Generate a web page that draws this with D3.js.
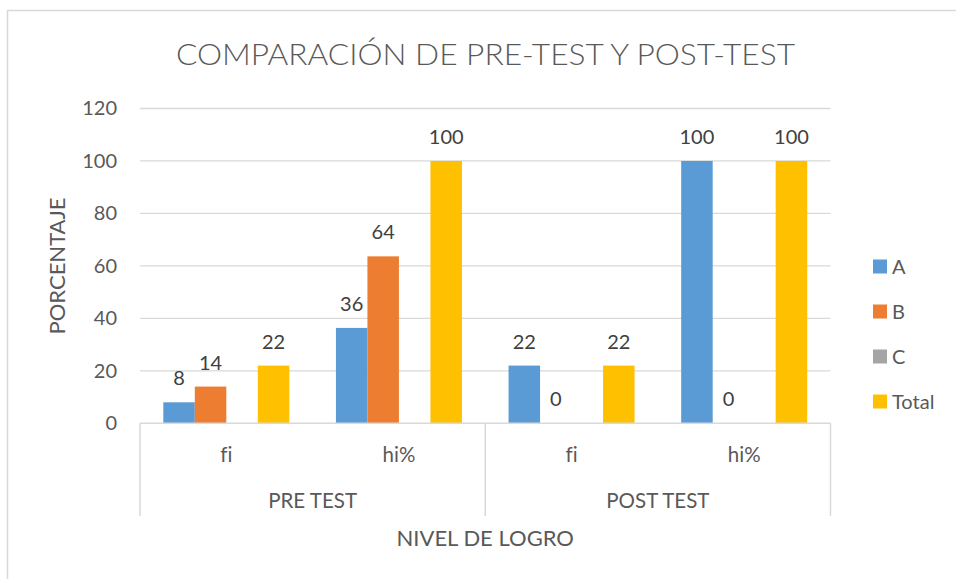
<!DOCTYPE html>
<html>
<head>
<meta charset="utf-8">
<script src="https://cdn.jsdelivr.net/npm/d3@7"></script>
<style>
  body { margin: 0; background: #fff; }
  text { font-family: Lato, "Open Sans", sans-serif; font-variant-ligatures: none; font-feature-settings: "liga" 0; }
</style>
</head>
<body>
<div id="chart"></div>
<script>
// data
let groups = ["PRE TEST", "POST TEST"];
let categories = ["fi", "hi%", "fi", "hi%"];
let categoryGroup = ["PRE TEST", "PRE TEST", "POST TEST", "POST TEST"];
let seriesNames = ["A", "B", "C", "Total"];
let valuesA = [8, 36.36, 22, 100];
let valuesB = [14, 63.64, 0, 0];
let valuesC = [null, null, null, null];
let valuesTotal = [22, 100, 22, 100];
let yTicks = [0, 20, 40, 60, 80, 100, 120];

let seriesColors = ["#5B9BD5", "#ED7D31", "#A5A5A5", "#FFC000"];
let allValues = [valuesA, valuesB, valuesC, valuesTotal];

let width = 956, height = 579;
let plot = { left: 140, right: 830.5, top: 108.5, bottom: 423.3 };

let svg = d3.select("#chart").append("svg")
  .attr("width", width)
  .attr("height", height);

// chart border (only left and top edges show in the picture)
svg.append("rect")
  .attr("x", 7.5).attr("y", 10.5)
  .attr("width", 1000).attr("height", 700)
  .attr("fill", "none")
  .attr("stroke", "#D9D9D9")
  .attr("stroke-width", 1.5);

// scales
let keys = categories.map((c, i) => i);
let x0 = d3.scaleBand().domain(keys).range([plot.left, plot.right]).padding(0);
let x1 = d3.scaleBand().domain(seriesNames).range([0, x0.bandwidth()])
  .paddingInner(0).paddingOuter(0.74);
let y = d3.scaleLinear().domain([0, 120]).range([plot.bottom, plot.top]);

// gridlines
svg.append("g").selectAll("line")
  .data(yTicks.slice(1))
  .enter().append("line")
  .attr("x1", plot.left).attr("x2", plot.right)
  .attr("y1", d => y(d)).attr("y2", d => y(d))
  .attr("stroke", "#D9D9D9")
  .attr("stroke-width", 1.3);

// y axis labels
let yAxis = svg.append("g")
  .attr("transform", "translate(" + plot.left + ",0)")
  .call(d3.axisLeft(y).tickValues(yTicks).tickSize(0).tickPadding(23));
yAxis.select(".domain").remove();
yAxis.selectAll("text")
  .attr("font-family", "Lato, sans-serif")
  .attr("font-size", "20px")
  .attr("fill", "#595959");

// bars
let rows = keys.map(i => seriesNames.map((s, j) => ({ cat: i, series: s, value: allValues[j][i], color: seriesColors[j] })));

let catG = svg.append("g").selectAll("g")
  .data(rows)
  .enter().append("g")
  .attr("transform", (d, i) => "translate(" + x0(i) + ",0)");

catG.selectAll("rect")
  .data(d => d.filter(e => e.value !== null))
  .enter().append("rect")
  .attr("x", d => x1(d.series))
  .attr("y", d => y(d.value))
  .attr("width", x1.bandwidth())
  .attr("height", d => y(0) - y(d.value))
  .attr("fill", d => d.color);

// data labels
catG.selectAll("text")
  .data(d => d.filter(e => e.value !== null))
  .enter().append("text")
  .attr("x", d => x1(d.series) + x1.bandwidth() / 2)
  .attr("y", d => y(d.value) - 17)
  .attr("text-anchor", "middle")
  .attr("font-size", "20px")
  .attr("fill", "#404040")
  .text(d => d3.format(".0f")(d.value));

// category axis line and group separators
svg.append("line")
  .attr("x1", plot.left).attr("x2", plot.right)
  .attr("y1", plot.bottom).attr("y2", plot.bottom)
  .attr("stroke", "#D9D9D9").attr("stroke-width", 1.5);

let groupEdges = [plot.left, x0(2), plot.right];
svg.append("g").selectAll("line")
  .data(groupEdges)
  .enter().append("line")
  .attr("x1", d => d).attr("x2", d => d)
  .attr("y1", plot.bottom).attr("y2", 516)
  .attr("stroke", "#D9D9D9").attr("stroke-width", 1.5);

// sub category labels
svg.append("g").selectAll("text")
  .data(categories)
  .enter().append("text")
  .attr("x", (d, i) => x0(i) + x0.bandwidth() / 2)
  .attr("y", 462)
  .attr("text-anchor", "middle")
  .attr("font-size", "20.5px")
  .attr("fill", "#595959")
  .text(d => d);

// group labels
svg.append("g").selectAll("text")
  .data(groups)
  .enter().append("text")
  .attr("x", d => {
    let idx = keys.filter(i => categoryGroup[i] === d);
    return (x0(idx[0]) + x0(idx[idx.length - 1]) + x0.bandwidth()) / 2;
  })
  .attr("y", 507.5)
  .attr("text-anchor", "middle")
  .attr("font-size", "20.5px")
  .attr("fill", "#595959")
  .text(d => d);

// axis titles
svg.append("text")
  .attr("x", (plot.left + plot.right) / 2)
  .attr("y", 546)
  .attr("text-anchor", "middle")
  .attr("font-size", "22px")
  .attr("fill", "#595959")
  .text("NIVEL DE LOGRO");

svg.append("text")
  .attr("transform", "translate(65,266) rotate(-90)")
  .attr("text-anchor", "middle")
  .attr("font-size", "22px")
  .attr("fill", "#595959")
  .text("PORCENTAJE");

// title
svg.append("text")
  .attr("x", 485.5)
  .attr("y", 64.5)
  .attr("text-anchor", "middle")
  .attr("font-size", "30px")
  .attr("font-weight", 300)
  .attr("textLength", 619)
  .attr("lengthAdjust", "spacingAndGlyphs")
  .attr("fill", "#595959")
  .text("COMPARACIÓN DE PRE-TEST Y POST-TEST");

// legend
let legend = svg.append("g").selectAll("g")
  .data(seriesNames)
  .enter().append("g")
  .attr("transform", (d, i) => "translate(873," + (259.5 + i * 45) + ")");

legend.append("rect")
  .attr("width", 14).attr("height", 14)
  .attr("fill", (d, i) => seriesColors[i]);

legend.append("text")
  .attr("x", 19)
  .attr("y", 14)
  .attr("font-size", "20px")
  .attr("fill", "#595959")
  .text(d => d);
</script>
</body>
</html>
